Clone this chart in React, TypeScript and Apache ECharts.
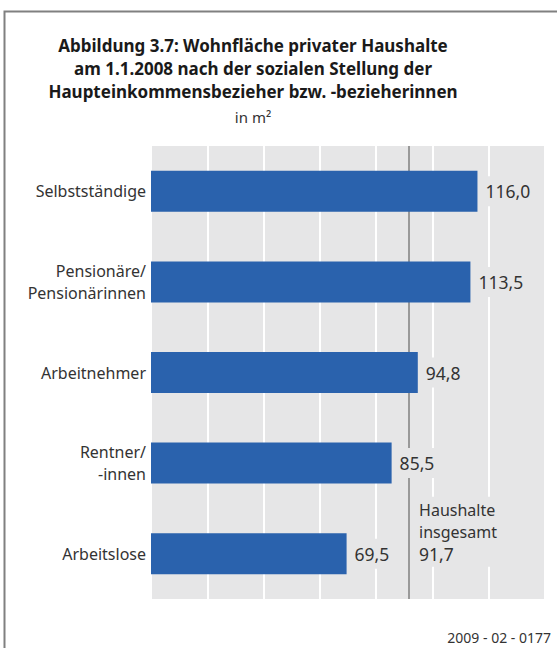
import React, { useEffect, useRef } from "react";
import * as echarts from "echarts";

const titleLines = [
  "Abbildung 3.7: Wohnfläche privater Haushalte",
  "am 1.1.2008 nach der sozialen Stellung der",
  "Haupteinkommensbezieher bzw. -bezieherinnen",
];
const unitText = "in m²";
const categories = [
  "Selbstständige",
  "Pensionäre/\nPensionärinnen",
  "Arbeitnehmer",
  "Rentner/\n-innen",
  "Arbeitslose",
];
const values = [116.0, 113.5, 94.8, 85.5, 69.5];
const totalValue = 91.7;
const totalLabel = "Haushalte\ninsgesamt";
const sourceText = "2009 - 02 - 0177";
const axisMin = 0;
const axisMax = 140;
const axisInterval = 20;

const fmt = (v: number) => v.toFixed(1).replace(".", ",");
const FONT = "'Noto Sans', sans-serif";
const GRAY_BG = "#e6e6e7";

export default function App() {
  const ref = useRef<HTMLDivElement>(null);
  useEffect(() => {
    if (!ref.current) return;
    const chart = echarts.init(ref.current, undefined, { renderer: "svg" });
    chart.setOption({
      animation: false,
      backgroundColor: "#ffffff",
      textStyle: { fontFamily: FONT },
      title: {
        text: titleLines.join("\n"),
        subtext: unitText,
        left: 253,
        textAlign: "center",
        top: 33.5,
        padding: 0,
        itemGap: 5,
        textStyle: {
          fontFamily: FONT,
          fontSize: 17,
          fontWeight: "bold",
          lineHeight: 23,
          color: "#1a1a1a",
        },
        subtextStyle: {
          fontFamily: FONT,
          fontSize: 15,
          lineHeight: 18,
          color: "#333333",
        },
      },
      grid: {
        left: 151,
        top: 146,
        width: 394,
        height: 453,
        show: true,
        backgroundColor: GRAY_BG,
        borderWidth: 0,
        containLabel: false,
      },
      xAxis: {
        type: "value",
        min: axisMin,
        max: axisMax,
        interval: axisInterval,
        axisLabel: { show: false },
        axisLine: { show: false },
        axisTick: { show: false },
        splitLine: { show: true, lineStyle: { color: "#ffffff", width: 2 } },
      },
      yAxis: {
        type: "category",
        data: categories,
        inverse: true,
        axisLine: { show: false },
        axisTick: { show: false },
        axisLabel: {
          margin: 5,
          fontFamily: FONT,
          fontSize: 16,
          lineHeight: 22,
          color: "#333333",
          align: "right",
        },
      },
      series: [
        {
          type: "line",
          data: [],
          z: 1,
          silent: true,
          markLine: {
            silent: true,
            z: 1,
            symbol: "none",
            label: { show: false },
            lineStyle: { color: "#999999", width: 2, type: "solid" },
            data: [{ xAxis: totalValue }],
          },
          markPoint: {
            silent: true,
            z: 2,
            symbol: "rect",
            symbolSize: 0,
            data: [
              {
                coord: [totalValue, categories[categories.length - 1]],
                label: {
                  show: true,
                  position: "inside",
                  formatter: totalLabel + "\n{n|" + fmt(totalValue) + "}",
                  align: "left",
                  verticalAlign: "middle",
                  offset: [7, -22],
                  fontFamily: FONT,
                  fontSize: 16,
                  lineHeight: 22,
                  color: "#333333",
                  backgroundColor: GRAY_BG,
                  padding: [2, 3],
                  rich: {
                    n: {
                      fontFamily: FONT,
                      fontSize: 17.5,
                      lineHeight: 22,
                      color: "#333333",
                    },
                  },
                },
              },
            ],
          },
        },
        {
          type: "bar",
          data: values,
          barWidth: 41,
          z: 3,
          itemStyle: { color: "#2a62ad" },
          label: {
            show: true,
            position: "right",
            distance: 5,
            formatter: (p: any) => fmt(p.value),
            fontFamily: FONT,
            fontSize: 17.5,
            color: "#333333",
            backgroundColor: GRAY_BG,
            padding: [6, 3],
          },
        },
      ],
      graphic: [
        {
          type: "rect",
          silent: true,
          shape: { x: 4.5, y: 11.5, width: 700, height: 800 },
          style: { fill: "none", stroke: "#808080", lineWidth: 2 },
        },
        {
          type: "text",
          silent: true,
          x: 551,
          y: 637,
          style: {
            text: sourceText,
            align: "right",
            verticalAlign: "middle",
            fontFamily: FONT,
            fontSize: 14,
            fill: "#333333",
          },
        },
      ],
    });
    return () => chart.dispose();
  }, []);
  return (
    <div
      ref={ref}
      style={{ position: "fixed", left: 0, top: 0, width: 557, height: 648 }}
    />
  );
}
